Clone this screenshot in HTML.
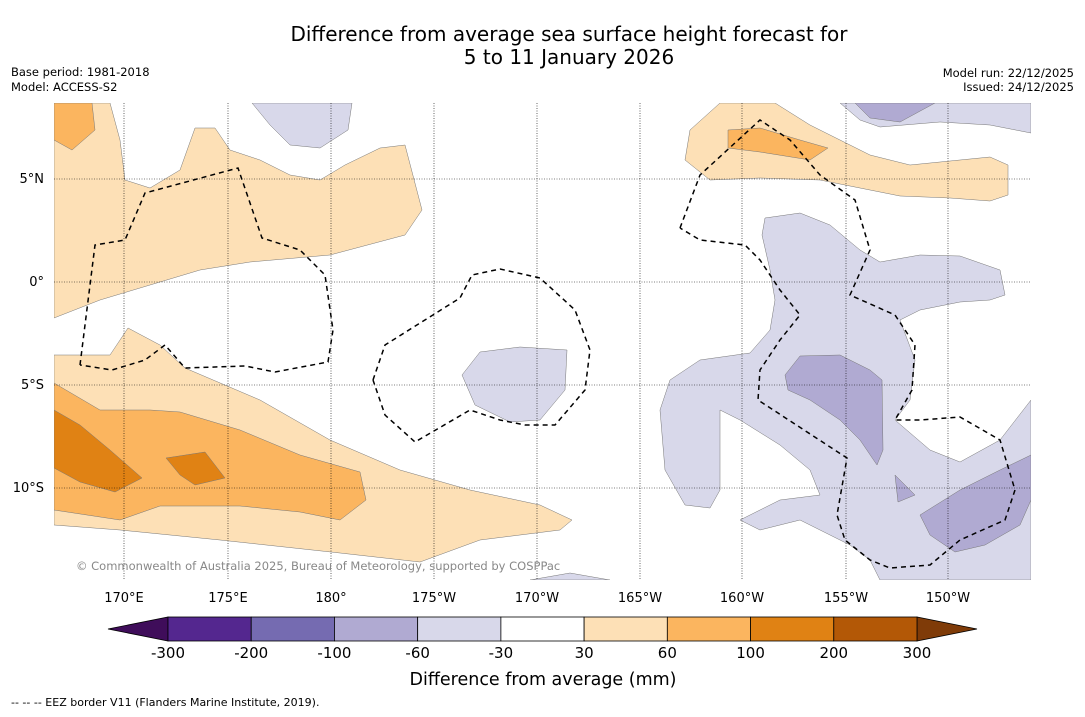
<!DOCTYPE html>
<html><head><meta charset="utf-8"><style>
body{margin:0;background:#fff;font-family:"DejaVu Sans","Liberation Sans",sans-serif;}
svg text{font-family:"DejaVu Sans","Liberation Sans",sans-serif;}
</style></head><body>
<svg width="1085" height="713" viewBox="0 0 1085 713" xmlns="http://www.w3.org/2000/svg">
<rect width="1085" height="713" fill="#fff"/>
<text x="569" y="41" font-size="20" text-anchor="middle">Difference from average sea surface height forecast for</text>
<text x="569" y="64" font-size="20" text-anchor="middle">5 to 11 January 2026</text>
<text x="11" y="76" font-size="11.5">Base period: 1981-2018</text>
<text x="11" y="91" font-size="11.5">Model: ACCESS-S2</text>
<text x="1074" y="77" font-size="11.5" text-anchor="end">Model run: 22/12/2025</text>
<text x="1074" y="91" font-size="11.5" text-anchor="end">Issued: 24/12/2025</text>

<svg x="54" y="103" width="977" height="477" viewBox="54 103 977 477" overflow="hidden">
<g stroke="#777" stroke-width="0.5">
<polygon fill="#fde0b6" points="54,103 110,103 120,140 125,180 150,188 180,170 195,128 215,128 230,150 260,160 290,175 320,180 345,165 380,148 405,145 422,210 405,235 330,255 250,262 200,270 150,285 100,300 54,318"/>
<polygon fill="#fbb55f" points="54,103 92,103 95,130 72,150 54,140"/>
<polygon fill="#fde0b6" points="54,355 110,355 128,328 160,345 185,368 260,400 330,440 400,470 470,490 540,505 572,520 560,530 480,540 420,562 340,553 220,540 120,530 54,525"/>
<polygon fill="#fbb55f" points="54,383 100,410 150,410 180,412 240,430 300,455 360,472 366,500 340,520 300,512 240,506 160,506 120,520 54,510"/>
<polygon fill="#e08214" points="54,410 80,425 110,450 142,478 115,492 80,482 54,468"/>
<polygon fill="#e08214" points="166,458 205,452 225,478 195,485 180,475"/>
<polygon fill="#fde0b6" points="720,103 775,103 810,125 840,140 870,155 910,165 960,160 990,157 1008,165 1008,195 990,201 950,198 900,196 870,190 820,180 760,178 710,180 685,160 690,130"/>
<polygon fill="#fbb55f" points="728,130 760,128 800,140 828,148 810,160 760,152 728,148"/>
<polygon fill="#d8d8ea" points="252,103 352,103 348,130 320,148 290,145 270,125"/>
<polygon fill="#d8d8ea" points="840,103 1031,103 1031,133 990,125 940,122 880,127 860,120"/>
<polygon fill="#b0aad2" points="855,103 935,103 900,122 870,118"/>
<polygon fill="#d8d8ea" points="765,218 800,213 830,225 860,250 880,262 920,255 960,256 1000,270 1005,295 990,300 960,302 920,310 900,320 915,360 910,400 895,420 930,450 960,462 1000,440 1031,400 1031,580 880,580 870,560 850,545 800,520 760,530 740,520 780,500 820,495 810,470 780,445 740,420 720,410 720,490 710,508 685,505 665,470 660,410 670,380 700,360 750,353 770,330 775,300 770,270 762,235"/>
<polygon fill="#b0aad2" points="785,375 800,356 840,355 870,370 882,380 883,450 877,465 860,440 840,420 810,400 788,390"/>
<polygon fill="#b0aad2" points="920,515 960,490 1000,470 1031,455 1031,500 1020,525 985,545 955,552 930,535"/>
<polygon fill="#b0aad2" points="895,475 915,495 898,502"/>
<polygon fill="#d8d8ea" points="462,375 480,352 520,347 567,350 565,390 540,420 510,422 475,405"/>
<polygon fill="#d8d8ea" points="530,580 570,573 610,580"/>
</g>
<g stroke="#000" stroke-width="0.6" stroke-dasharray="1,1.5">
<line x1="124" y1="103" x2="124" y2="580"/><line x1="228" y1="103" x2="228" y2="580"/><line x1="331" y1="103" x2="331" y2="580"/><line x1="434" y1="103" x2="434" y2="580"/><line x1="537" y1="103" x2="537" y2="580"/><line x1="640" y1="103" x2="640" y2="580"/><line x1="742" y1="103" x2="742" y2="580"/><line x1="846" y1="103" x2="846" y2="580"/><line x1="948" y1="103" x2="948" y2="580"/>
<line x1="54" y1="179" x2="1031" y2="179"/><line x1="54" y1="282" x2="1031" y2="282"/><line x1="54" y1="385" x2="1031" y2="385"/><line x1="54" y1="488" x2="1031" y2="488"/>
</g>
<g fill="none" stroke="#000" stroke-width="1.5" stroke-dasharray="5,4">
<polyline points="80,365 95,245 125,240 145,193 238,168 262,238 300,250 325,275 333,330 328,362 275,372 245,366 185,368 165,345 145,360 112,370 80,365"/>
<polyline points="373,380 385,345 460,298 472,275 500,269 540,278 575,310 590,350 585,390 555,425 525,425 500,420 470,410 415,442 385,415 373,380"/>
<polyline points="680,228 700,175 760,120 790,140 820,175 855,200 870,250 850,295 895,315 915,345 912,390 895,420 920,420 960,417 1000,440 1015,490 1005,520 960,540 930,565 890,568 870,560 845,540 837,515 847,458 758,400 760,370 780,340 800,315 780,290 760,260 745,245 700,240 680,228"/>
</g>
<text x="76" y="570" font-size="11.5" fill="#888">© Commonwealth of Australia 2025, Bureau of Meteorology, supported by COSPPac</text>
</svg>

<g font-size="13">
<text x="44" y="183" text-anchor="end">5°N</text><text x="44" y="286" text-anchor="end">0°</text><text x="44" y="389" text-anchor="end">5°S</text><text x="44" y="492" text-anchor="end">10°S</text>
</g>
<g font-size="13" text-anchor="middle">
<text x="124" y="602">170°E</text><text x="228" y="602">175°E</text><text x="331" y="602">180°</text><text x="434" y="602">175°W</text><text x="537" y="602">170°W</text><text x="640" y="602">165°W</text><text x="742" y="602">160°W</text><text x="846" y="602">155°W</text><text x="948" y="602">150°W</text>
</g>
<g id="cbar"></g>
<text x="543" y="685" font-size="17.5" text-anchor="middle">Difference from average (mm)</text>
<text x="11" y="706" font-size="11">--  --  -- EEZ border V11 (Flanders Marine Institute, 2019).</text>
</svg>
<script>
const tickLabels=["-300","-200","-100","-60","-30","30","60","100","200","300"];
const binColors=["#54278f","#756bb1","#b0aad2","#d8d8ea","#ffffff","#fde0b6","#fbb55f","#e08214","#b35806"];
const extendColors=["#3f0d5a","#7f3b08"];
const ns="http://www.w3.org/2000/svg";
const g=document.getElementById('cbar');
const x0=168,x1=917,y0=617,h=24,w=(x1-x0)/binColors.length;
function mk(t,a){const e=document.createElementNS(ns,t);for(const k in a)e.setAttribute(k,a[k]);g.appendChild(e);return e;}
let l=mk('polygon',{points:`${x0},${y0} ${x0},${y0+h} 108,${y0+h/2}`,fill:extendColors[0],stroke:'#000','stroke-width':0.8});


let r=mk('polygon',{points:`${x1},${y0} ${x1},${y0+h} 977,${y0+h/2}`,fill:extendColors[1],stroke:'#000','stroke-width':0.8});


binColors.forEach((c,i)=>{
 const e=mk('rect',{x:x0+i*w,y:y0,width:w,height:h,fill:c,stroke:'#000','stroke-width':0.8});
 
 
});
tickLabels.forEach((t,i)=>{
 const e=mk('text',{x:x0+i*w,y:658,'font-size':15,'text-anchor':'middle'});
 e.textContent=t;
 
 
});
</script>
</body></html>
